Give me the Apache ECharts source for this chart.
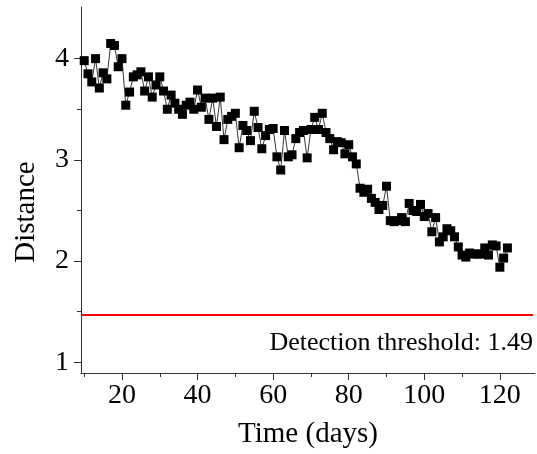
<!DOCTYPE html>
<html>
<head>
<meta charset="utf-8">
<script src="https://cdn.jsdelivr.net/npm/echarts@6/dist/echarts.min.js"></script>
<style>html,body{margin:0;padding:0;background:#fff}#c{width:537px;height:454px}</style>
</head>
<body>
<div id="c"></div>
<script>
const days = [10,11,12,13,14,15,16,17,18,19,20,21,22,23,24,25,26,27,28,29,30,31,32,33,34,35,36,37,38,39,40,41,42,43,44,45,46,47,48,49,50,51,52,53,54,55,56,57,58,59,60,61,62,63,64,65,66,67,68,69,70,71,72,73,74,75,76,77,78,79,80,81,82,83,84,85,86,87,88,89,90,91,92,93,94,95,96,97,98,99,100,101,102,103,104,105,106,107,108,109,110,111,112,113,114,115,116,117,118,119,120,121,122];
const distance = [3.98,3.85,3.77,4.00,3.71,3.86,3.80,4.15,4.13,3.92,4.00,3.54,3.67,3.82,3.84,3.87,3.68,3.82,3.62,3.74,
  3.82,3.68,3.50,3.64,3.56,3.50,3.45,3.54,3.57,3.50,3.69,3.52,3.61,3.40,3.61,3.33,3.62,3.20,3.40,3.43,
  3.46,3.12,3.34,3.29,3.19,3.48,3.32,3.11,3.24,3.30,3.31,3.03,2.90,3.29,3.03,3.05,3.21,3.27,3.29,3.02,
  3.30,3.42,3.30,3.46,3.27,3.21,3.10,3.18,3.17,3.06,3.15,3.03,2.96,2.72,2.68,2.71,2.62,2.58,2.51,2.55,
  2.74,2.40,2.39,2.40,2.43,2.39,2.57,2.50,2.49,2.56,2.44,2.47,2.29,2.43,2.19,2.24,2.32,2.30,2.24,2.14,
  2.06,2.04,2.08,2.07,2.07,2.07,2.13,2.06,2.16,2.15,1.94,2.03,2.13];
const xTicks = [20,40,60,80,100,120];
const xMinorTicks = [10,30,50,70,90,110];
const yTicks = [1,2,3,4];
const yMinorTicks = [1.5,2.5,3.5];
const thresholdLine = 1.47;
const thresholdText = 'Detection threshold: 1.49';
const xTitle = 'Time (days)';
const yTitle = 'Distance';

const FONT = '"Liberation Serif", "Times New Roman", serif';
const X_MIN = 9.15, X_MAX = 129.3, Y_MIN = 0.895, Y_MAX = 4.51;
const LINE_END = 128.8;
const axisCol = '#333';

const chart = echarts.init(document.getElementById('c'));
const baseX = {
  type: 'value', min: X_MIN, max: X_MAX, position: 'bottom',
  axisLine: {show: true, onZero: false, lineStyle: {color: axisCol, width: 1}},
  splitLine: {show: false}
};
const baseY = {
  type: 'value', min: Y_MIN, max: Y_MAX, position: 'left',
  axisLine: {show: true, onZero: false, lineStyle: {color: axisCol, width: 1}},
  splitLine: {show: false}
};
chart.setOption({
  animation: false,
  grid: {left: 81, right: 2, top: 7, bottom: 76, containLabel: false},
  xAxis: [
    Object.assign({}, baseX, {
      axisTick: {show: true, length: 7, customValues: xTicks, lineStyle: {color: axisCol}},
      axisLabel: {show: true, customValues: xTicks, margin: 9, color: '#000', fontFamily: FONT, fontSize: 28},
      name: xTitle, nameLocation: 'middle', nameGap: 47,
      nameTextStyle: {color: '#000', fontFamily: FONT, fontSize: 29}
    }),
    Object.assign({}, baseX, {
      axisLine: {show: false},
      axisTick: {show: true, length: 4, customValues: xMinorTicks, lineStyle: {color: axisCol}},
      axisLabel: {show: false}
    })
  ],
  yAxis: [
    Object.assign({}, baseY, {
      axisTick: {show: true, length: 7, customValues: yTicks, lineStyle: {color: axisCol}},
      axisLabel: {show: true, customValues: yTicks, margin: 12, color: '#000', fontFamily: FONT, fontSize: 28}
    }),
    Object.assign({}, baseY, {
      axisLine: {show: false},
      axisTick: {show: true, length: 4, customValues: yMinorTicks, lineStyle: {color: axisCol}},
      axisLabel: {show: false}
    })
  ],
  graphic: [
    {type: 'text', x: 26, y: 212, rotation: Math.PI / 2,
     style: {text: yTitle, fill: '#000', font: '29px ' + FONT, align: 'center', verticalAlign: 'middle'}},
    {type: 'text', x: 533, y: 343,
     style: {text: thresholdText, fill: '#000', font: '26px ' + FONT, align: 'right', verticalAlign: 'middle'}}
  ],
  series: [{
    type: 'line',
    xAxisIndex: 0, yAxisIndex: 0,
    data: days.map((d, i) => [d, distance[i]]),
    symbol: 'rect', symbolSize: 9, showAllSymbol: true,
    itemStyle: {color: '#000'},
    lineStyle: {color: '#000', width: 0.8},
    markLine: {
      silent: true, symbol: 'none', label: {show: false},
      lineStyle: {color: '#ff0000', width: 2, type: 'solid'},
      data: [[{coord: [X_MIN, thresholdLine]}, {coord: [LINE_END, thresholdLine]}]]
    }
  }]
});
</script>
</body>
</html>
